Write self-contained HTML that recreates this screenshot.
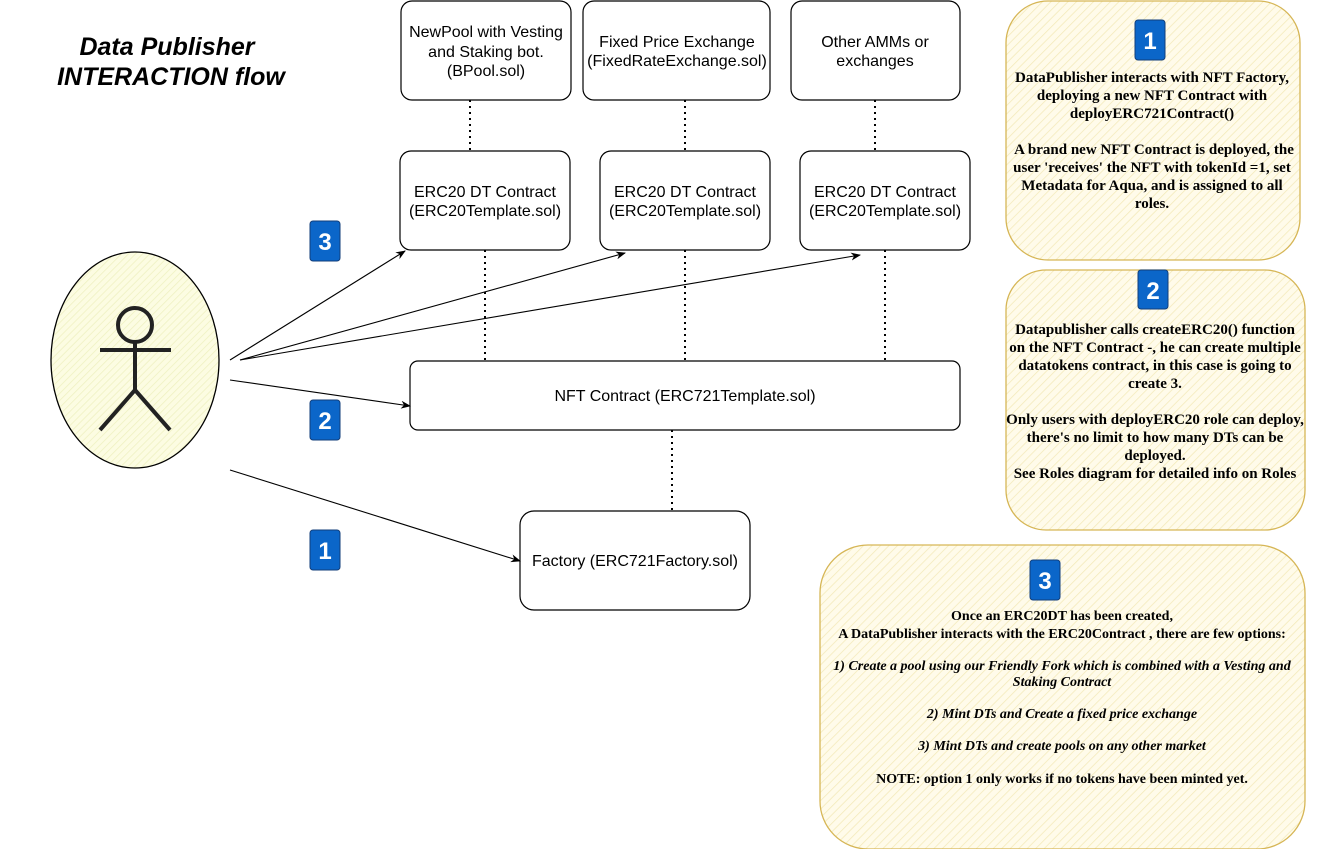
<!DOCTYPE html>
<html><head><meta charset="utf-8"><style>
body{margin:0;background:#fff;}
svg{display:block}
.s{font-family:"Liberation Sans",sans-serif;font-size:16px;fill:#000}
.n{font-family:"Liberation Serif",serif;font-size:15px;font-weight:bold;fill:#000}
.m{font-family:"Liberation Serif",serif;font-size:14px;font-weight:bold;fill:#000}
.b{font-family:"Liberation Sans",sans-serif;font-size:24px;font-weight:bold;fill:#fff}
</style></head><body>
<svg width="1321" height="849" viewBox="0 0 1321 849">
<defs>
<pattern id="h" width="6" height="6" patternUnits="userSpaceOnUse" patternTransform="rotate(45)">
<rect width="6" height="6" fill="#fffbea"/><line x1="0" y1="0" x2="0" y2="6" stroke="#f3e9b8" stroke-width="1.5"/></pattern>
<pattern id="h2" width="5" height="5" patternUnits="userSpaceOnUse" patternTransform="rotate(45)">
<rect width="5" height="5" fill="#fcfce2"/><line x1="0" y1="0" x2="0" y2="5" stroke="#eef0c0" stroke-width="1.5"/></pattern>
<marker id="a" markerWidth="10" markerHeight="8" refX="9" refY="4" orient="auto" markerUnits="userSpaceOnUse"><path d="M0,0 L10,4 L0,8 L3,4z" fill="#000"/></marker>
</defs>
<text x="167" y="55" text-anchor="middle" font-family="Liberation Sans,sans-serif" font-size="25" font-weight="bold" font-style="italic">Data Publisher</text>
<text x="171" y="85" text-anchor="middle" font-family="Liberation Sans,sans-serif" font-size="25" font-weight="bold" font-style="italic">INTERACTION flow</text>

<g fill="#fff" stroke="#000" stroke-width="1.2">
<rect x="401" y="1" width="170" height="99" rx="11"/>
<rect x="583" y="1" width="187" height="99" rx="11"/>
<rect x="791" y="1" width="169" height="99" rx="11"/>
<rect x="400" y="151" width="170" height="99" rx="11"/>
<rect x="600" y="151" width="170" height="99" rx="11"/>
<rect x="800" y="151" width="170" height="99" rx="11"/>
<rect x="410" y="361" width="550" height="69" rx="8"/>
<rect x="520" y="511" width="230" height="99" rx="14"/>
</g>
<g stroke="#000" stroke-width="2" stroke-dasharray="2,4">
<line x1="470" y1="100" x2="470" y2="151"/><line x1="685" y1="100" x2="685" y2="151"/><line x1="875" y1="100" x2="875" y2="151"/>
<line x1="485" y1="250" x2="485" y2="361"/><line x1="685" y1="250" x2="685" y2="361"/><line x1="885" y1="250" x2="885" y2="361"/>
<line x1="672" y1="430" x2="672" y2="511"/>
</g>
<g class="s" text-anchor="middle">
<text x="486" y="37" class="s">NewPool with Vesting</text><text x="486" y="57" class="s">and Staking bot.</text><text x="486" y="76" class="s">(BPool.sol)</text>
<text x="677" y="47" class="s">Fixed Price Exchange</text><text x="677" y="66" class="s">(FixedRateExchange.sol)</text>
<text x="875" y="47" class="s">Other AMMs or</text><text x="875" y="66" class="s">exchanges</text>
<text x="485" y="197" class="s">ERC20 DT Contract</text><text x="485" y="216" class="s">(ERC20Template.sol)</text>
<text x="685" y="197" class="s">ERC20 DT Contract</text><text x="685" y="216" class="s">(ERC20Template.sol)</text>
<text x="885" y="197" class="s">ERC20 DT Contract</text><text x="885" y="216" class="s">(ERC20Template.sol)</text>
<text x="685" y="401" class="s">NFT Contract (ERC721Template.sol)</text>
<text x="635" y="566" class="s">Factory (ERC721Factory.sol)</text>
</g>

<ellipse cx="135" cy="360" rx="84" ry="108" fill="url(#h2)" stroke="#000" stroke-width="1.3"/>
<g stroke="#222" stroke-width="4" fill="none">
<circle cx="135" cy="325" r="17"/>
<line x1="100" y1="350" x2="171" y2="350"/>
<line x1="135" y1="342" x2="135" y2="390"/>
<line x1="135" y1="390" x2="100" y2="430"/>
<line x1="135" y1="390" x2="170" y2="430"/>
</g>

<g stroke="#000" stroke-width="1.1" marker-end="url(#a)">
<line x1="230" y1="360" x2="405" y2="251"/>
<line x1="240" y1="360" x2="625" y2="253"/>
<line x1="240" y1="360" x2="860" y2="255"/>
<line x1="230" y1="380" x2="410" y2="406"/>
<line x1="230" y1="470" x2="520" y2="561"/>
</g>

<g fill="#0b66c9" stroke="#123e7a">
<rect x="310" y="221" width="30" height="40" rx="3"/><rect x="310" y="400" width="30" height="40" rx="3"/><rect x="310" y="530" width="30" height="40" rx="3"/>
</g>
<text x="325" y="250" class="b" text-anchor="middle">3</text>
<text x="325" y="429" class="b" text-anchor="middle">2</text>
<text x="325" y="559" class="b" text-anchor="middle">1</text>

<g fill="url(#h)" stroke="#d6b656" stroke-width="1.3">
<rect x="1006" y="1" width="294" height="259" rx="42"/>
<rect x="1006" y="270" width="299" height="260" rx="40"/>
<rect x="820" y="545" width="485" height="304" rx="48"/>
</g>
<g fill="#0b66c9" stroke="#123e7a">
<rect x="1135" y="20" width="30" height="40" rx="3"/><rect x="1138" y="270" width="30" height="39" rx="3"/><rect x="1030" y="560" width="30" height="40" rx="3"/>
</g>
<text x="1150" y="49" class="b" text-anchor="middle">1</text>
<text x="1153" y="299" class="b" text-anchor="middle">2</text>
<text x="1045" y="589" class="b" text-anchor="middle">3</text>

<g text-anchor="middle">
<text x="1152" y="82" class="n">DataPublisher interacts with NFT Factory,</text>
<text x="1152" y="100" class="n">deploying a new NFT Contract with</text>
<text x="1152" y="118" class="n">deployERC721Contract()</text>
<text x="1154" y="154" class="n">A brand new NFT Contract is deployed, the</text>
<text x="1152" y="172" class="n">user 'receives' the NFT with tokenId =1, set</text>
<text x="1152" y="190" class="n">Metadata for Aqua, and is assigned to all</text>
<text x="1152" y="208" class="n">roles.</text>

<text x="1155" y="334" class="n">Datapublisher calls createERC20() function</text>
<text x="1155" y="352" class="n">on the NFT Contract -, he can create multiple</text>
<text x="1155" y="370" class="n">datatokens contract, in this case is going to</text>
<text x="1155" y="388" class="n">create 3.</text>
<text x="1155" y="424" class="n">Only users with deployERC20 role can deploy,</text>
<text x="1155" y="442" class="n">there's no limit to how many DTs can be</text>
<text x="1155" y="460" class="n">deployed.</text>
<text x="1155" y="478" class="n">See Roles diagram for detailed info on Roles</text>

<text x="1062" y="620" class="m">Once an ERC20DT has been created,</text>
<text x="1062" y="638" class="m">A DataPublisher interacts with the ERC20Contract , there are few options:</text>
<text x="1062" y="670" class="m" font-style="italic">1) Create a pool using our Friendly Fork which is combined with a Vesting and</text>
<text x="1062" y="686" class="m" font-style="italic">Staking Contract</text>
<text x="1062" y="718" class="m" font-style="italic">2) Mint DTs and Create a fixed price exchange</text>
<text x="1062" y="750" class="m" font-style="italic">3) Mint DTs and create pools on any other market</text>
<text x="1062" y="783" class="m">NOTE: option 1 only works if no tokens have been minted yet.</text>
</g>
</svg>
</body></html>
